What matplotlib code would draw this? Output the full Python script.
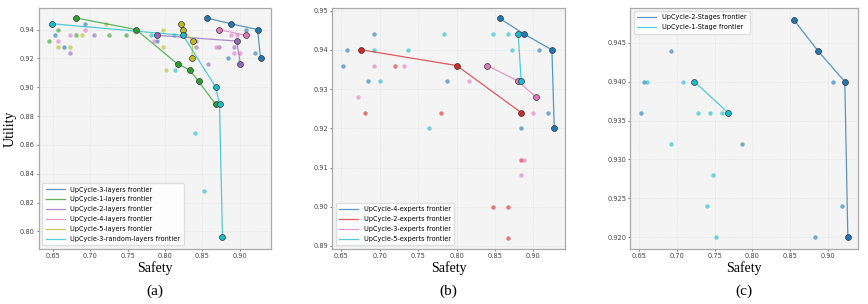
import matplotlib
matplotlib.use("Agg")
import matplotlib.pyplot as plt

BLUE = "#1f77b4"
GREEN = "#2ca02c"
PURPLE = "#9467bd"
PINK = "#e377c2"
OLIVE = "#bcbd22"
CYAN = "#17becf"
RED = "#d62728"

# ---- panel (a): layers ----
a_3_front_s = [0.856, 0.888, 0.924, 0.928]
a_3_front_u = [0.948, 0.944, 0.940, 0.920]
a_3_pts_s = [0.693, 0.653, 0.665, 0.789, 0.884, 0.908, 0.921]
a_3_pts_u = [0.944, 0.936, 0.928, 0.932, 0.920, 0.940, 0.924]

a_1_front_s = [0.681, 0.761, 0.817, 0.833, 0.845, 0.868]
a_1_front_u = [0.948, 0.940, 0.916, 0.912, 0.904, 0.888]
a_1_pts_s = [0.645, 0.657, 0.681, 0.725, 0.748]
a_1_pts_u = [0.932, 0.940, 0.936, 0.936, 0.936]

a_2_front_s = [0.789, 0.896, 0.901]
a_2_front_u = [0.936, 0.932, 0.916]
a_2_pts_s = [0.673, 0.705, 0.841, 0.841, 0.857, 0.872, 0.892]
a_2_pts_u = [0.924, 0.936, 0.932, 0.928, 0.916, 0.928, 0.928]

a_4_front_s = [0.872, 0.908]
a_4_front_u = [0.940, 0.936]
a_4_pts_s = [0.657, 0.673, 0.693, 0.785, 0.868, 0.888, 0.896, 0.892, 0.900]
a_4_pts_u = [0.932, 0.936, 0.940, 0.932, 0.928, 0.936, 0.936, 0.924, 0.924]

a_5_front_s = [0.821, 0.824, 0.837, 0.836]
a_5_front_u = [0.944, 0.940, 0.932, 0.920]
a_5_pts_s = [0.657, 0.673, 0.689, 0.721, 0.797, 0.797, 0.801]
a_5_pts_u = [0.928, 0.928, 0.936, 0.944, 0.940, 0.928, 0.912]

a_r_front_s = [0.649, 0.824, 0.868, 0.873, 0.877]
a_r_front_u = [0.944, 0.936, 0.900, 0.888, 0.796]
a_r_pts_s = [0.781, 0.813, 0.812, 0.840, 0.852]
a_r_pts_u = [0.936, 0.912, 0.936, 0.868, 0.828]

# ---- panel (b): experts ----
b_4_front_s = [0.856, 0.888, 0.924, 0.927]
b_4_front_u = [0.948, 0.944, 0.940, 0.920]
b_4_pts_s = [0.652, 0.657, 0.692, 0.684, 0.788, 0.884, 0.907, 0.919]
b_4_pts_u = [0.936, 0.940, 0.944, 0.932, 0.932, 0.920, 0.940, 0.924]

b_2_front_s = [0.676, 0.800, 0.884]
b_2_front_u = [0.940, 0.936, 0.924]
b_2_pts_s = [0.680, 0.720, 0.780, 0.884, 0.847, 0.867, 0.867]
b_2_pts_u = [0.924, 0.936, 0.924, 0.912, 0.900, 0.900, 0.892]

b_3_front_s = [0.840, 0.880, 0.903]
b_3_front_u = [0.936, 0.932, 0.928]
b_3_pts_s = [0.672, 0.692, 0.732, 0.816, 0.900, 0.888, 0.884]
b_3_pts_u = [0.928, 0.936, 0.936, 0.932, 0.924, 0.912, 0.908]

b_5_front_s = [0.880, 0.884]
b_5_front_u = [0.944, 0.932]
b_5_pts_s = [0.692, 0.700, 0.736, 0.764, 0.784, 0.847, 0.867, 0.872]
b_5_pts_u = [0.940, 0.932, 0.940, 0.920, 0.944, 0.944, 0.944, 0.940]

# ---- panel (c): stages ----
c_2_front_s = [0.855, 0.887, 0.923, 0.927]
c_2_front_u = [0.948, 0.944, 0.940, 0.920]
c_2_pts_s = [0.652, 0.656, 0.692, 0.787, 0.907, 0.919, 0.884]
c_2_pts_u = [0.936, 0.940, 0.944, 0.932, 0.940, 0.924, 0.920]

c_1_front_s = [0.723, 0.768]
c_1_front_u = [0.940, 0.936]
c_1_pts_s = [0.660, 0.692, 0.708, 0.728, 0.744, 0.760, 0.748, 0.740, 0.752]
c_1_pts_u = [0.940, 0.932, 0.940, 0.936, 0.936, 0.936, 0.928, 0.924, 0.920]


def draw(ax, s_pts, u_pts, s_front, u_front, color, label):
    ax.scatter(s_pts, u_pts, s=10, color=color, alpha=0.6, linewidths=0, zorder=2)
    ax.plot(s_front, u_front, color=color, lw=0.9, alpha=0.75, label=label, zorder=3)
    ax.scatter(s_front, u_front, s=18, color=color, edgecolors="#333333",
               linewidths=0.5, zorder=4)


def style(ax, xlim, ylim, yticks):
    ax.set_facecolor("#f4f4f4")
    ax.set_xlim(*xlim)
    ax.set_ylim(*ylim)
    ax.set_xticks([0.65, 0.70, 0.75, 0.80, 0.85, 0.90])
    ax.set_yticks(yticks)
    ax.grid(True, color="#dddddd", lw=0.5, ls=":")
    ax.set_axisbelow(True)
    ax.tick_params(labelsize=4.8, length=1.5, width=0.5, pad=1.5, colors="#444444")
    for sp in ax.spines.values():
        sp.set_color("#aaaaaa")
        sp.set_linewidth(0.9)
    ax.set_xlabel("Safety", fontfamily="Liberation Serif", fontsize=10, labelpad=2)


def add_legend(ax, loc):
    ax.legend(loc=loc, fontsize=4.7, frameon=True, framealpha=0.9,
              edgecolor="#dddddd", handlelength=3, borderpad=0.5, labelspacing=0.6)


fig = plt.figure(figsize=(8.68, 3.04), dpi=100)
ax1 = fig.add_axes([0.0449, 0.182, 0.2673, 0.792])
ax2 = fig.add_axes([0.3828, 0.182, 0.2681, 0.792])
ax3 = fig.add_axes([0.7262, 0.182, 0.2627, 0.792])

draw(ax1, a_3_pts_s, a_3_pts_u, a_3_front_s, a_3_front_u, BLUE, "UpCycle-3-layers frontier")
draw(ax1, a_1_pts_s, a_1_pts_u, a_1_front_s, a_1_front_u, GREEN, "UpCycle-1-layers frontier")
draw(ax1, a_2_pts_s, a_2_pts_u, a_2_front_s, a_2_front_u, PURPLE, "UpCycle-2-layers frontier")
draw(ax1, a_4_pts_s, a_4_pts_u, a_4_front_s, a_4_front_u, PINK, "UpCycle-4-layers frontier")
draw(ax1, a_5_pts_s, a_5_pts_u, a_5_front_s, a_5_front_u, OLIVE, "UpCycle-5-layers frontier")
draw(ax1, a_r_pts_s, a_r_pts_u, a_r_front_s, a_r_front_u, CYAN, "UpCycle-3-random-layers frontier")
style(ax1, (0.631, 0.942), (0.788, 0.955), [0.80, 0.82, 0.84, 0.86, 0.88, 0.90, 0.92, 0.94])
ax1.set_ylabel("Utility", fontfamily="Liberation Serif", fontsize=10, labelpad=2)
add_legend(ax1, "lower left")

draw(ax2, b_4_pts_s, b_4_pts_u, b_4_front_s, b_4_front_u, BLUE, "UpCycle-4-experts frontier")
draw(ax2, b_2_pts_s, b_2_pts_u, b_2_front_s, b_2_front_u, RED, "UpCycle-2-experts frontier")
draw(ax2, b_3_pts_s, b_3_pts_u, b_3_front_s, b_3_front_u, PINK, "UpCycle-3-experts frontier")
draw(ax2, b_5_pts_s, b_5_pts_u, b_5_front_s, b_5_front_u, CYAN, "UpCycle-5-experts frontier")
style(ax2, (0.638, 0.941), (0.8893, 0.9507), [0.89, 0.90, 0.91, 0.92, 0.93, 0.94, 0.95])
add_legend(ax2, "lower left")

draw(ax3, c_2_pts_s, c_2_pts_u, c_2_front_s, c_2_front_u, BLUE, "UpCycle-2-Stages frontier")
draw(ax3, c_1_pts_s, c_1_pts_u, c_1_front_s, c_1_front_u, CYAN, "UpCycle-1-Stage frontier")
style(ax3, (0.638, 0.941), (0.9185, 0.9495), [0.920, 0.925, 0.930, 0.935, 0.940, 0.945])
add_legend(ax3, "upper left")

for ax, cap in [(ax1, "(a)"), (ax2, "(b)"), (ax3, "(c)")]:
    ax.text(0.5, -0.148, cap, transform=ax.transAxes, ha="center", va="top",
            fontfamily="Liberation Serif", fontsize=11)

fig.savefig("out.png", dpi=100)
